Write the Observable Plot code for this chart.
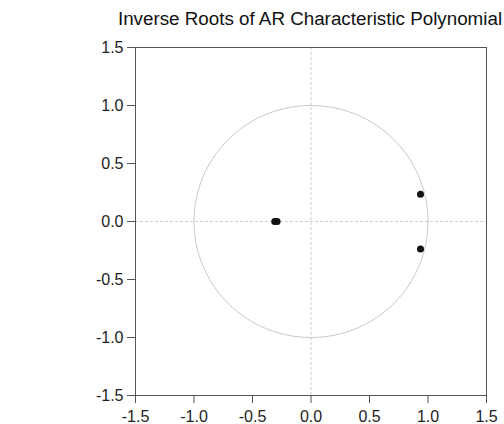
<!DOCTYPE html>
<html>
<head>
<meta charset="utf-8">
<script src="https://cdn.jsdelivr.net/npm/d3@7"></script>
<script src="https://cdn.jsdelivr.net/npm/@observablehq/plot@0.6"></script>
<style>
  html, body { margin: 0; padding: 0; background: #fff; }
  #chart { position: relative; width: 504px; height: 424px; overflow: hidden; font-family: "Liberation Sans", Arial, sans-serif; }
  #title { position: absolute; left: 310px; top: 8px; transform: translateX(-50%); font-size: 18.8px; line-height: 22px; color: #111; white-space: nowrap; }
  #chart svg { position: absolute; left: 0; top: 34px; display: block; }
</style>
</head>
<body>
<div id="chart">
  <div id="title">Inverse Roots of AR Characteristic Polynomial</div>
</div>
<script>
// Inverse roots of the AR characteristic polynomial (real, imaginary)
const rootRe = [-0.31, -0.29, 0.936, 0.936];
const rootIm = [0, 0, 0.234, -0.238];
const ticks = [-1.5, -1.0, -0.5, 0.0, 0.5, 1.0, 1.5];

const roots = rootRe.map((re, i) => ({re, im: rootIm[i]}));

// Unit circle outline
const circle = d3.range(0, 361, 2).map(a => ({
  x: Math.cos(a * Math.PI / 180),
  y: Math.sin(a * Math.PI / 180)
}));

const fmt = d => d.toFixed(1);

const plot = Plot.plot({
  width: 504,
  height: 390,
  marginTop: 13,
  marginBottom: 29,
  marginLeft: 135,
  marginRight: 18,
  style: {fontFamily: "Liberation Sans, Arial, sans-serif", fontSize: "16px", color: "#222", background: "#fff", overflow: "visible"},
  x: {domain: [-1.5, 1.5], label: null},
  y: {domain: [-1.5, 1.5], label: null},
  marks: [
    Plot.ruleX([0], {stroke: "#cfcfcf", strokeDasharray: "3,2", strokeWidth: 1}),
    Plot.ruleY([0], {stroke: "#cfcfcf", strokeDasharray: "3,2", strokeWidth: 1}),
    Plot.line(circle, {x: "x", y: "y", stroke: "#c8c8c8", strokeWidth: 1, curve: "linear"}),
    Plot.dot(roots, {x: "re", y: "im", r: 3.5, fill: "#111", stroke: null}),
    Plot.frame({stroke: "#555", strokeWidth: 1}),
    Plot.axisX({ticks, tickFormat: fmt, tickSize: 8, tickPadding: 7, stroke: "#555", fill: "#222", fontSize: 16, label: null}),
    Plot.axisY({ticks, tickFormat: fmt, tickSize: 8, tickPadding: 4, stroke: "#555", fill: "#222", fontSize: 16, label: null})
  ]
});

document.getElementById("chart").appendChild(plot);
</script>
</body>
</html>
